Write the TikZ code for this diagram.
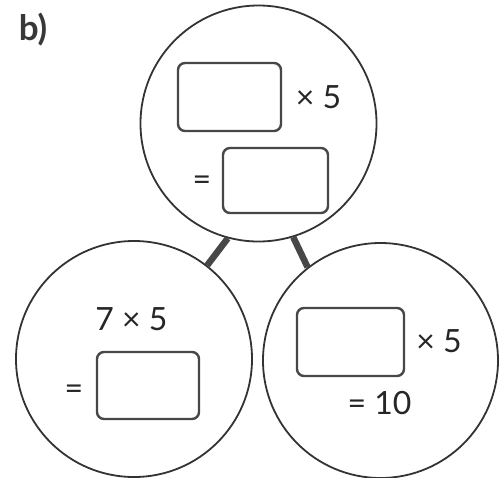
\documentclass[tikz,border=0pt]{standalone}
\usepackage{fontspec}
\setmainfont{Lato}
\begin{document}
\begin{tikzpicture}[x=1pt,y=-1pt,
  bubble/.style={circle,draw=black!80,line width=1.8pt,minimum size=236pt,inner sep=0pt},
  answerbox/.style={rectangle,draw=black!72,line width=2.4pt,rounded corners=7pt,inner sep=0pt},
  link/.style={draw=black!72,line width=6.5pt},
  txt/.style={text=black!85,inner sep=0pt,font=\fontsize{32}{36}\selectfont}]
\useasboundingbox (0,0) rectangle (500,477);
\node[font=\bfseries\fontsize{35}{40}\selectfont,text=black!78,inner sep=0pt] (lbl) at (33,30) {b)};
\node[bubble] (top) at (258.5,123.5) {};
\node[bubble] (bl) at (134,359) {};
\node[bubble,minimum size=235pt] (br) at (380.5,360.5) {};
\draw[link] (top.-105) -- (bl.52);
\draw[link] (top.-73) -- (br.128);
% top circle
\node[answerbox,minimum width=103pt,minimum height=68pt] (b1) at (229.5,97) {};
\node[txt] (t1) at (318.5,97) {× 5};
\node[answerbox,minimum width=105pt,minimum height=65pt] (b2) at (275.5,180.5) {};
\node[txt] (e1) at (202,183) {=};
% bottom-left circle
\node[txt] (t2) at (131.5,319) {7 × 5};
\node[answerbox,minimum width=102pt,minimum height=67pt] (b3) at (148,385.5) {};
\node[txt] (e2) at (74,392) {=};
% bottom-right circle
\node[answerbox,minimum width=107pt,minimum height=68pt] (b4) at (350.5,342) {};
\node[txt] (t3) at (439,341) {× 5};
\node[txt] (t4) at (379.5,403) {= 10};
\end{tikzpicture}
\end{document}
